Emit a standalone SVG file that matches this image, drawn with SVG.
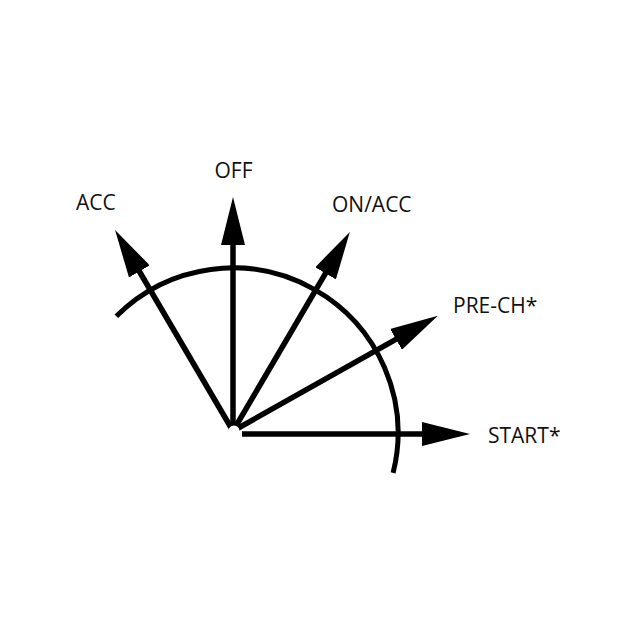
<svg xmlns="http://www.w3.org/2000/svg" width="640" height="640" viewBox="0 0 640 640">
  <style>
    .lbl { font-family: "Open Sans", "Liberation Sans", sans-serif; font-size: 21px; fill: #111; }
    .ln { stroke: #000; stroke-width: 5.5; fill: none; marker-end: url(#ah); }
    .arc { stroke: #000; stroke-width: 5; fill: none; stroke-linecap: butt; }
  </style>
  <defs>
    <marker id="ah" markerUnits="userSpaceOnUse" markerWidth="48" markerHeight="24" refX="8" refY="12" orient="auto" viewBox="0 0 48 24">
      <path d="M0,0 L48,12 L0,24 z" fill="#000"/>
    </marker>
  </defs>
  <rect width="640" height="640" fill="#fff"/>
  <g id="dial-arc">
    <path class="arc" d="M116.3,316.3 A165,165 0 0 1 393.1,472.9"/>
  </g>
  <g id="connectors">
    <line class="ln" x1="233" y1="431" x2="135.3" y2="264.5"/>
    <line class="ln" x1="233" y1="431" x2="233" y2="237"/>
    <line class="ln" x1="233" y1="431" x2="329.6" y2="266.4"/>
    <line class="ln" x1="233" y1="431" x2="403" y2="335.4"/>
    <line class="ln" x1="242" y1="434" x2="430" y2="434"/>
  </g>
  <circle cx="234" cy="431" r="5.5" fill="#fff"/>
  <g id="node-acc"><text class="lbl" x="76" y="210">ACC</text></g>
  <g id="node-off"><text class="lbl" x="233.5" y="178" text-anchor="middle">OFF</text></g>
  <g id="node-onacc"><text class="lbl" x="332" y="212">ON/ACC</text></g>
  <g id="node-prech"><text class="lbl" x="453" y="313">PRE-CH*</text></g>
  <g id="node-start"><text class="lbl" x="488" y="443">START*</text></g>
</svg>
